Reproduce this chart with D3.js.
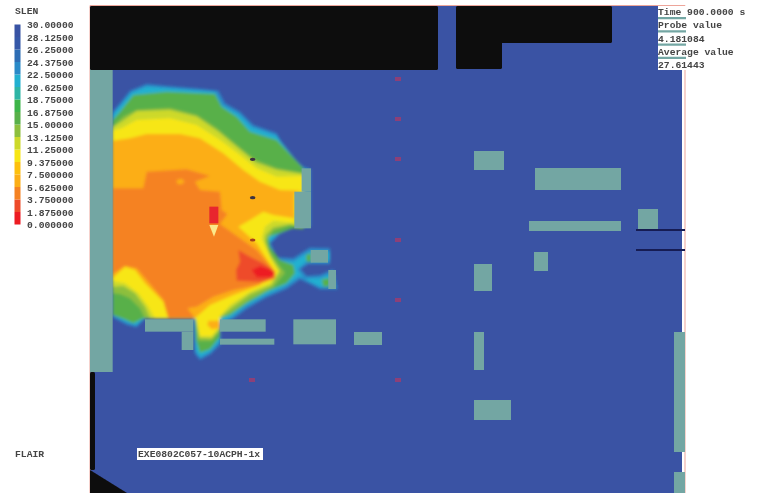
<!DOCTYPE html>
<html>
<head>
<script src="https://d3js.org/d3.v7.min.js"></script>
<style>
html, body { margin: 0; padding: 0; background: #fff; overflow: hidden; }
text { font-family: "Liberation Mono", monospace; font-size: 9.7px; font-weight: bold; fill: #444; }
</style>
</head>
<body>
<svg width="757" height="495"></svg>
<script>
// colour bar
var legendValues = [30, 28.125, 26.25, 24.375, 22.5, 20.625, 18.75, 16.875, 15, 13.125, 11.25, 9.375, 7.5, 5.625, 3.75, 1.875, 0];
var legendColors = ['#ed1c24', '#ee4b2b', '#f58220', '#fcae17', '#fdc010', '#f7e616', '#cdd92a', '#8dbf3e',
                    '#58b048', '#3cb54a', '#2fb5a5', '#22b0d0', '#2a8ac8', '#2f6db4', '#3559a8', '#3953a4'];

// SLEN contours, [slen, outline] from high to low visibility distance, model grid units
var slen22 = [[38,125],[60,100],[90,62],[140,42],[200,48],[300,56],[355,62],[375,100],[420,125],[460,165],[530,190],[555,240],[610,290],[632,297],[632,470],[585,472],[540,492],[512,520],[530,562],[580,565],[610,545],[630,533],[690,535],[690,582],[625,582],[602,597],[620,618],[660,615],[700,598],[712,658],[660,658],[630,642],[600,628],[560,656],[500,682],[440,716],[400,746],[362,762],[362,822],[332,852],[300,870],[284,850],[280,745],[135,745],[110,772],[80,764],[38,742]];
var slen20 = [[38,135],[60,110],[95,68],[140,50],[200,55],[345,66],[365,105],[415,132],[455,172],[530,198],[605,292],[610,470],[580,472],[535,490],[505,520],[525,570],[580,575],[612,555],[630,545],[690,545],[690,572],[622,572],[592,598],[612,626],[660,625],[700,610],[705,650],[660,650],[625,632],[598,618],[556,648],[498,674],[436,708],[392,742],[360,755],[360,812],[330,845],[300,860],[287,840],[283,745],[135,745],[108,765],[80,756],[38,735]];
var slen16 = [[38,150],[60,125],[100,75],[200,65],[345,72],[365,110],[410,140],[450,185],[530,210],[610,295],[610,478],[578,475],[540,490],[505,500],[510,530],[540,570],[580,585],[585,610],[560,640],[500,665],[440,700],[390,735],[360,745],[360,800],[330,838],[300,848],[288,810],[285,745],[130,745],[100,760],[70,746],[38,735]];
var slen13 = [[38,170],[70,140],[110,120],[210,115],[290,135],[350,175],[410,225],[465,270],[530,295],[610,310],[610,473],[570,465],[520,482],[500,510],[505,540],[540,590],[555,608],[520,650],[450,688],[400,722],[360,745],[360,782],[335,812],[295,812],[287,745],[135,745],[120,715],[90,685],[60,672],[38,670]];
var slen12 = [[38,172],[65,155],[110,124],[210,120],[290,140],[355,185],[415,235],[468,278],[530,300],[610,312],[610,468],[570,463],[520,472],[497,495],[495,515],[512,560],[540,602],[515,645],[450,672],[395,712],[360,742],[360,775],[335,805],[298,803],[288,745],[150,745],[135,710],[105,670],[70,648],[38,650]];
var slen10 = [[38,182],[65,175],[110,150],[210,145],[290,165],[360,210],[420,255],[470,295],[530,320],[610,318],[610,362],[583,440],[583,458],[520,452],[495,470],[485,505],[510,560],[535,605],[510,640],[450,665],[390,705],[360,738],[360,768],[335,798],[300,798],[288,745],[165,745],[145,710],[115,670],[75,640],[38,632]];
var slen6 = [[38,212],[90,205],[140,192],[240,192],[300,205],[370,250],[430,300],[480,335],[540,360],[605,362],[583,370],[583,445],[520,435],[490,425],[450,450],[415,470],[470,520],[522,600],[480,645],[400,675],[330,705],[288,742],[205,745],[190,695],[135,640],[105,600],[75,590],[38,625]];
var slen6Lobe = [[325,752],[358,752],[358,775],[335,778],[322,765]];
var slen5 = [[38,355],[130,355],[140,305],[260,298],[330,318],[285,335],[300,360],[360,365],[365,420],[382,432],[360,462],[420,505],[470,540],[525,605],[525,625],[470,645],[400,660],[340,680],[290,710],[262,715],[285,745],[205,745],[190,690],[140,630],[110,595],[75,588],[38,612]];
var slen6Spot = [[230,330],[245,326],[254,335],[245,343],[232,342]];
var slen3 = [[415,540],[450,560],[490,580],[525,605],[520,625],[480,635],[410,632],[408,600],[420,575]];
var slen1 = [[455,600],[480,588],[510,597],[525,612],[510,622],[470,622]];
var slen16Arm1 = [[618,555],[634,550],[634,575],[620,575]];
var slen16Arm2 = [[665,628],[690,625],[690,648],[670,650]];

var contours = [[23, slen22], [21, slen20], [16, slen16], [14, slen13], [12, slen12], [10, slen10],
                [16, slen16Arm1], [16, slen16Arm2], [6.5, slen6], [6.5, slen6Lobe], [5, slen5], [6.5, slen6Spot],
                [3, slen3], [1, slen1]];

// obstructions and walls as [x0, y0, x1, y1]
var walls = [[-30,-3,38,906], [135,748,280,785], [245,785,280,840], [360,748,497,785], [360,806,523,824],
             [580,748,708,823], [762,786,846,825], [583,365,633,475], [605,295,633,365], [632,540,684,578],
             [685,600,708,657], [1122,243,1212,300], [1305,294,1563,360], [1287,453,1563,483], [1614,417,1674,477],
             [1302,546,1344,603], [1122,582,1176,663], [1122,786,1152,900], [1122,990,1233,1050],
             [1722,786,1755,1146], [1722,1206,1755,1269], [1674,-186,1758,-12]];
var solids = [[-30,-192,1014,0], [1068,-192,1536,-81], [1068,-90,1206,-3], [-30,906,-15,1200]];
var solidCorner = [[-30,1200],[81,1269],[-30,1269]];
var ducts = [[1608,477,1755,483], [1608,537,1755,543]];

// devices
var sensorsOuter = [[894,27],[894,147],[894,267],[894,510],[894,690],[894,930],[456,930]];
var sensorsInner = [[458,268],[458,383],[458,510]];
var fireRect = [328,410,355,460];
var fireTip = [[328,465],[355,465],[342,500]];

// annotations
var statusLines = ['Time 900.0000 s', 'Probe value', '4.181084', 'Average value', '27.61443'];

var svg = d3.select('svg');
var x = d3.scaleLinear().domain([-30, 1755]).range([90, 685]);
var y = d3.scaleLinear().domain([-192, 1269]).range([6, 493]);
var legendY = d3.scaleLinear().domain([30, 0]).range([24.5, 224.5]);
var color = d3.scaleQuantize().domain([0, 30]).range(legendColors);
var line = d3.line().x(function(d) { return x(d[0]); }).y(function(d) { return y(d[1]); }).curve(d3.curveLinearClosed);

var defs = svg.append('defs');
[['soft', 1.5], ['edge', 0.6], ['ink', 0.4]].forEach(function(f) {
  defs.append('filter').attr('id', f[0]).attr('x', '-5%').attr('y', '-5%').attr('width', '110%').attr('height', '110%')
    .append('feGaussianBlur').attr('stdDeviation', f[1]);
});

// domain
svg.append('rect').attr('x', x(-30)).attr('y', y(-192)).attr('width', 592).attr('height', 487).attr('fill', '#3a53a4');
svg.append('path').attr('d', 'M' + x(-30) + ',' + y(1269) + 'V' + (y(-192) - 0.5) + 'H' + x(1755) + 'V' + y(1269))
  .attr('fill', 'none').attr('stroke', '#eda59a').attr('stroke-width', 1);

// contours
svg.append('g').attr('filter', 'url(#soft)').selectAll('path')
  .data(contours).enter().append('path')
  .attr('d', function(d) { return line(d[1]); })
  .attr('fill', function(d) { return color(d[0]); });

var fixed = svg.append('g').attr('filter', 'url(#edge)');

fixed.selectAll('rect.wall').data(walls).enter().append('rect').attr('class', 'wall')
  .attr('x', function(d) { return x(d[0]); }).attr('y', function(d) { return y(d[1]); })
  .attr('width', function(d) { return x(d[2]) - x(d[0]); }).attr('height', function(d) { return y(d[3]) - y(d[1]); })
  .attr('fill', '#73a6a3');

fixed.selectAll('rect.solid').data(solids).enter().append('rect').attr('class', 'solid')
  .attr('x', function(d) { return x(d[0]); }).attr('y', function(d) { return y(d[1]); })
  .attr('width', function(d) { return x(d[2]) - x(d[0]); }).attr('height', function(d) { return y(d[3]) - y(d[1]); })
  .attr('rx', 1.5).attr('fill', '#0f0c0c');
fixed.append('path').attr('d', line(solidCorner)).attr('fill', '#0f0c0c');

fixed.selectAll('rect.duct').data(ducts).enter().append('rect').attr('class', 'duct')
  .attr('x', function(d) { return x(d[0]); }).attr('y', function(d) { return y(d[1]); })
  .attr('width', function(d) { return x(d[2]) - x(d[0]); }).attr('height', function(d) { return y(d[3]) - y(d[1]); })
  .attr('fill', '#141a52');

fixed.selectAll('rect.outer').data(sensorsOuter).enter().append('rect').attr('class', 'outer')
  .attr('x', function(d) { return x(d[0]) - 3; }).attr('y', function(d) { return y(d[1]) - 2; })
  .attr('width', 6).attr('height', 4).attr('fill', '#8d3f78');

fixed.selectAll('ellipse').data(sensorsInner).enter().append('ellipse')
  .attr('cx', function(d) { return x(d[0]); }).attr('cy', function(d) { return y(d[1]); })
  .attr('rx', 2.8).attr('ry', 1.6).attr('fill', function(d, i) { return i == 2 ? '#a6401c' : '#3d3340'; });

fixed.append('rect').attr('x', x(fireRect[0])).attr('y', y(fireRect[1]))
  .attr('width', x(fireRect[2]) - x(fireRect[0])).attr('height', y(fireRect[3]) - y(fireRect[1])).attr('fill', '#e8262d');
fixed.append('path').attr('d', line(fireTip)).attr('fill', '#fbe88a');

// white boxes behind the status lines and the run label
var rowY = d3.scalePoint().domain(d3.range(statusLines.length)).range([12, 65]);
var statusBox = svg.append('g');
statusBox.selectAll('rect').data(statusLines).enter().append('rect')
  .attr('x', 658).attr('y', function(d, i) { return rowY(i) - 6; })
  .attr('width', 29).attr('height', 11)
  .attr('fill', '#fff');
svg.append('rect').attr('x', 137).attr('y', 448).attr('width', 126).attr('height', 12).attr('fill', '#fff');

var ink = svg.append('g').attr('filter', 'url(#ink)');
ink.selectAll('text.status').data(statusLines).enter().append('text').attr('class', 'status')
  .attr('x', 658).attr('y', function(d, i) { return rowY(i) + 3; })
  .text(function(d) { return d; });

ink.append('text').attr('x', 138).attr('y', 457).text('EXE0802C057-10ACPH-1x');
ink.append('text').attr('x', 15).attr('y', 457).text('FLAIR');
ink.append('text').attr('x', 15).attr('y', 14).text('SLEN');

// colour bar
var bar = svg.append('g').attr('filter', 'url(#edge)');
bar.selectAll('rect').data(legendColors).enter().append('rect')
  .attr('x', 14.5).attr('width', 6)
  .attr('y', function(d, i) { return legendY(legendValues[15 - i]); })
  .attr('height', function(d, i) { return legendY(legendValues[16 - i]) - legendY(legendValues[15 - i]); })
  .attr('fill', function(d) { return d; });

var axis = d3.axisRight(legendY).tickValues(legendValues).tickSize(0).tickPadding(6)
  .tickFormat(function(d) { return d.toPrecision(7); });
ink.append('g').attr('transform', 'translate(21,0)').call(axis)
  .call(function(g) { g.select('.domain').remove(); })
  .attr('font-family', null).attr('font-size', null);
</script>
</body>
</html>
